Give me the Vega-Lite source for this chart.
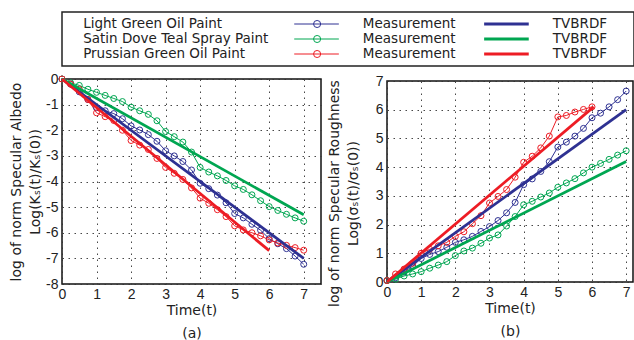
{
  "$schema": "https://vega.github.io/schema/vega-lite/v6.json",
  "background": "white",
  "padding": {"left": 8, "top": 11, "right": 0, "bottom": 0},
  "bounds": "flush",
  "spacing": 13,
  "datasets": {
    "legend": [
      {"s": "Light Green", "label": "Light Green Oil Paint"},
      {"s": "Satin Dove", "label": "Satin Dove Teal Spray Paint"},
      {"s": "Prussian", "label": "Prussian Green Oil Paint"}
    ],
    "measA": [
      {"s":"Light Green","t":0,"v":0},{"s":"Light Green","t":0.25,"v":-0.2},{"s":"Light Green","t":0.5,"v":-0.5},{"s":"Light Green","t":0.75,"v":-0.8},{"s":"Light Green","t":1,"v":-1.12},{"s":"Light Green","t":1.25,"v":-1.24},{"s":"Light Green","t":1.5,"v":-1.35},{"s":"Light Green","t":1.75,"v":-1.55},{"s":"Light Green","t":2,"v":-1.83},{"s":"Light Green","t":2.25,"v":-1.99},{"s":"Light Green","t":2.5,"v":-2.17},{"s":"Light Green","t":2.75,"v":-2.43},{"s":"Light Green","t":3,"v":-2.8},{"s":"Light Green","t":3.25,"v":-3.0},{"s":"Light Green","t":3.5,"v":-3.22},{"s":"Light Green","t":3.75,"v":-3.55},{"s":"Light Green","t":4,"v":-4.07},{"s":"Light Green","t":4.25,"v":-4.28},{"s":"Light Green","t":4.5,"v":-4.53},{"s":"Light Green","t":4.75,"v":-4.83},{"s":"Light Green","t":5,"v":-5.25},{"s":"Light Green","t":5.25,"v":-5.42},{"s":"Light Green","t":5.5,"v":-5.67},{"s":"Light Green","t":5.75,"v":-5.9},{"s":"Light Green","t":6,"v":-6.23},{"s":"Light Green","t":6.25,"v":-6.43},{"s":"Light Green","t":6.5,"v":-6.62},{"s":"Light Green","t":6.75,"v":-6.91},{"s":"Light Green","t":7,"v":-7.23},
      {"s":"Satin Dove","t":0,"v":0},{"s":"Satin Dove","t":0.25,"v":-0.15},{"s":"Satin Dove","t":0.5,"v":-0.25},{"s":"Satin Dove","t":0.75,"v":-0.4},{"s":"Satin Dove","t":1,"v":-0.52},{"s":"Satin Dove","t":1.25,"v":-0.64},{"s":"Satin Dove","t":1.5,"v":-0.76},{"s":"Satin Dove","t":1.75,"v":-0.88},{"s":"Satin Dove","t":2,"v":-1.1},{"s":"Satin Dove","t":2.25,"v":-1.24},{"s":"Satin Dove","t":2.5,"v":-1.38},{"s":"Satin Dove","t":2.75,"v":-1.63},{"s":"Satin Dove","t":3,"v":-2.05},{"s":"Satin Dove","t":3.25,"v":-2.25},{"s":"Satin Dove","t":3.5,"v":-2.46},{"s":"Satin Dove","t":3.75,"v":-2.85},{"s":"Satin Dove","t":4,"v":-3.45},{"s":"Satin Dove","t":4.25,"v":-3.63},{"s":"Satin Dove","t":4.5,"v":-3.78},{"s":"Satin Dove","t":4.75,"v":-3.96},{"s":"Satin Dove","t":5,"v":-4.17},{"s":"Satin Dove","t":5.25,"v":-4.31},{"s":"Satin Dove","t":5.5,"v":-4.52},{"s":"Satin Dove","t":5.75,"v":-4.75},{"s":"Satin Dove","t":6,"v":-4.98},{"s":"Satin Dove","t":6.25,"v":-5.13},{"s":"Satin Dove","t":6.5,"v":-5.28},{"s":"Satin Dove","t":6.75,"v":-5.42},{"s":"Satin Dove","t":7,"v":-5.55},
      {"s":"Prussian","t":0,"v":0},{"s":"Prussian","t":0.25,"v":-0.2},{"s":"Prussian","t":0.5,"v":-0.4},{"s":"Prussian","t":0.75,"v":-0.8},{"s":"Prussian","t":1,"v":-1.32},{"s":"Prussian","t":1.25,"v":-1.47},{"s":"Prussian","t":1.5,"v":-1.62},{"s":"Prussian","t":1.75,"v":-2.0},{"s":"Prussian","t":2,"v":-2.4},{"s":"Prussian","t":2.25,"v":-2.58},{"s":"Prussian","t":2.5,"v":-2.75},{"s":"Prussian","t":2.75,"v":-3.1},{"s":"Prussian","t":3,"v":-3.45},{"s":"Prussian","t":3.25,"v":-3.68},{"s":"Prussian","t":3.5,"v":-3.92},{"s":"Prussian","t":3.75,"v":-4.25},{"s":"Prussian","t":4,"v":-4.65},{"s":"Prussian","t":4.25,"v":-4.85},{"s":"Prussian","t":4.5,"v":-5.1},{"s":"Prussian","t":4.75,"v":-5.37},{"s":"Prussian","t":5,"v":-5.73},{"s":"Prussian","t":5.25,"v":-5.89},{"s":"Prussian","t":5.5,"v":-6.0},{"s":"Prussian","t":5.75,"v":-6.12},{"s":"Prussian","t":6,"v":-6.28},{"s":"Prussian","t":6.25,"v":-6.4},{"s":"Prussian","t":6.5,"v":-6.49},{"s":"Prussian","t":6.75,"v":-6.58},{"s":"Prussian","t":7,"v":-6.68}
    ],
    "fitA": [
      {"s":"Light Green","t":0,"v":0},{"s":"Light Green","t":7,"v":-7.0},
      {"s":"Satin Dove","t":0,"v":0},{"s":"Satin Dove","t":7,"v":-5.3},
      {"s":"Prussian","t":0,"v":0},{"s":"Prussian","t":6,"v":-6.7}
    ],
    "measB": [
      {"s":"Light Green","t":0,"v":0.05},{"s":"Light Green","t":0.25,"v":0.15},{"s":"Light Green","t":0.5,"v":0.35},{"s":"Light Green","t":0.75,"v":0.55},{"s":"Light Green","t":1,"v":0.82},{"s":"Light Green","t":1.25,"v":0.96},{"s":"Light Green","t":1.5,"v":1.06},{"s":"Light Green","t":1.75,"v":1.21},{"s":"Light Green","t":2,"v":1.38},{"s":"Light Green","t":2.25,"v":1.47},{"s":"Light Green","t":2.5,"v":1.59},{"s":"Light Green","t":2.75,"v":1.76},{"s":"Light Green","t":3,"v":1.93},{"s":"Light Green","t":3.25,"v":2.14},{"s":"Light Green","t":3.5,"v":2.41},{"s":"Light Green","t":3.75,"v":2.77},{"s":"Light Green","t":4,"v":3.39},{"s":"Light Green","t":4.25,"v":3.59},{"s":"Light Green","t":4.5,"v":3.85},{"s":"Light Green","t":4.75,"v":4.19},{"s":"Light Green","t":5,"v":4.7},{"s":"Light Green","t":5.25,"v":4.87},{"s":"Light Green","t":5.5,"v":5.08},{"s":"Light Green","t":5.75,"v":5.35},{"s":"Light Green","t":6,"v":5.72},{"s":"Light Green","t":6.25,"v":5.88},{"s":"Light Green","t":6.5,"v":6.1},{"s":"Light Green","t":6.75,"v":6.35},{"s":"Light Green","t":7,"v":6.65},
      {"s":"Satin Dove","t":0,"v":0.05},{"s":"Satin Dove","t":0.25,"v":0.1},{"s":"Satin Dove","t":0.5,"v":0.21},{"s":"Satin Dove","t":0.75,"v":0.28},{"s":"Satin Dove","t":1,"v":0.36},{"s":"Satin Dove","t":1.25,"v":0.48},{"s":"Satin Dove","t":1.5,"v":0.59},{"s":"Satin Dove","t":1.75,"v":0.71},{"s":"Satin Dove","t":2,"v":0.92},{"s":"Satin Dove","t":2.25,"v":1.08},{"s":"Satin Dove","t":2.5,"v":1.18},{"s":"Satin Dove","t":2.75,"v":1.35},{"s":"Satin Dove","t":3,"v":1.53},{"s":"Satin Dove","t":3.25,"v":1.64},{"s":"Satin Dove","t":3.5,"v":1.95},{"s":"Satin Dove","t":3.75,"v":2.28},{"s":"Satin Dove","t":4,"v":2.69},{"s":"Satin Dove","t":4.25,"v":2.81},{"s":"Satin Dove","t":4.5,"v":2.96},{"s":"Satin Dove","t":4.75,"v":3.1},{"s":"Satin Dove","t":5,"v":3.3},{"s":"Satin Dove","t":5.25,"v":3.45},{"s":"Satin Dove","t":5.5,"v":3.6},{"s":"Satin Dove","t":5.75,"v":3.8},{"s":"Satin Dove","t":6,"v":4.0},{"s":"Satin Dove","t":6.25,"v":4.13},{"s":"Satin Dove","t":6.5,"v":4.27},{"s":"Satin Dove","t":6.75,"v":4.42},{"s":"Satin Dove","t":7,"v":4.57},
      {"s":"Prussian","t":0,"v":0.05},{"s":"Prussian","t":0.25,"v":0.28},{"s":"Prussian","t":0.5,"v":0.45},{"s":"Prussian","t":0.75,"v":0.65},{"s":"Prussian","t":1,"v":1.0},{"s":"Prussian","t":1.25,"v":1.14},{"s":"Prussian","t":1.5,"v":1.26},{"s":"Prussian","t":1.75,"v":1.38},{"s":"Prussian","t":2,"v":1.59},{"s":"Prussian","t":2.25,"v":1.75},{"s":"Prussian","t":2.5,"v":2.03},{"s":"Prussian","t":2.75,"v":2.31},{"s":"Prussian","t":3,"v":2.75},{"s":"Prussian","t":3.25,"v":2.98},{"s":"Prussian","t":3.5,"v":3.22},{"s":"Prussian","t":3.75,"v":3.65},{"s":"Prussian","t":4,"v":4.17},{"s":"Prussian","t":4.25,"v":4.38},{"s":"Prussian","t":4.5,"v":4.67},{"s":"Prussian","t":4.75,"v":5.08},{"s":"Prussian","t":5,"v":5.75},{"s":"Prussian","t":5.25,"v":5.8},{"s":"Prussian","t":5.5,"v":5.92},{"s":"Prussian","t":5.75,"v":6.01},{"s":"Prussian","t":6,"v":6.1}
    ],
    "fitB": [
      {"s":"Light Green","t":0,"v":0},{"s":"Light Green","t":7,"v":6.0},
      {"s":"Satin Dove","t":0,"v":0},{"s":"Satin Dove","t":7,"v":4.2},
      {"s":"Prussian","t":0,"v":0},{"s":"Prussian","t":6.05,"v":6.1}
    ]
  },
  "vconcat": [
    {
      "width": 572,
      "height": 54,
      "view": {"stroke": "#222", "strokeWidth": 1.5},
      "data": {"name": "legend"},
      "encoding": {
        "y": {"field": "label", "type": "nominal", "scale": {"type": "point", "domain": ["Light Green Oil Paint", "Satin Dove Teal Spray Paint", "Prussian Green Oil Paint"], "padding": 0.8}, "axis": null}
      },
      "layer": [
        {"mark": {"type": "text", "align": "left", "baseline": "middle", "font": "DejaVu Sans", "fontSize": 13.5, "color": "#222"},
         "encoding": {"x": {"datum": 3.7, "type": "quantitative", "scale": {"domain": [0, 100], "nice": false}, "axis": null}, "text": {"field": "label"}}},
        {"mark": {"type": "rule", "strokeWidth": 1},
         "encoding": {"x": {"datum": 40.6, "type": "quantitative"}, "x2": {"datum": 48.4},
           "color": {"field": "s", "type": "nominal", "scale": {"domain": ["Light Green", "Satin Dove", "Prussian"], "range": ["#2E3192", "#00A651", "#ED1C24"]}, "legend": null}}},
        {"mark": {"type": "point", "shape": "circle", "filled": false, "size": 50, "strokeWidth": 1, "opacity": 1},
         "encoding": {"x": {"datum": 44.6, "type": "quantitative"},
           "color": {"field": "s", "type": "nominal", "legend": null}}},
        {"mark": {"type": "text", "align": "left", "baseline": "middle", "font": "DejaVu Sans", "fontSize": 13.5, "color": "#222"},
         "encoding": {"x": {"datum": 52.6, "type": "quantitative"}, "text": {"value": "Measurement"}}},
        {"mark": {"type": "rule", "strokeWidth": 3},
         "encoding": {"x": {"datum": 73.8, "type": "quantitative"}, "x2": {"datum": 81.6},
           "color": {"field": "s", "type": "nominal", "legend": null}}},
        {"mark": {"type": "text", "align": "left", "baseline": "middle", "font": "DejaVu Sans", "fontSize": 13.5, "color": "#222"},
         "encoding": {"x": {"datum": 85.8, "type": "quantitative"}, "text": {"value": "TVBRDF"}}}
      ]
    },
    {
      "hconcat": [
        {
          "width": 259,
          "height": 205,
          "encoding": {
            "x": {"field": "t", "type": "quantitative", "scale": {"domain": [0, 7.5], "nice": false, "zero": false},
              "axis": {"values": [0,1,2,3,4,5,6,7], "title": ["Time(t)", "(a)"], "labelFlush": false, "labelOverlap": false}},
            "y": {"field": "v", "type": "quantitative", "scale": {"domain": [-8, 0], "nice": false},
              "axis": {"values": [-8,-7,-6,-5,-4,-3,-2,-1,0], "labelExpr": "datum.value + ''", "title": ["log of norm Specular Albedo", "Log(Kₛ(t)/Kₛ(0))"], "labelOverlap": false}},
            "color": {"field": "s", "type": "nominal", "scale": {"domain": ["Light Green", "Satin Dove", "Prussian"], "range": ["#2E3192", "#00A651", "#ED1C24"]}, "legend": null}
          },
          "layer": [
            {"data": {"name": "measA"}, "mark": {"type": "line", "strokeWidth": 1}},
            {"data": {"name": "measA"}, "mark": {"type": "point", "shape": "circle", "filled": false, "size": 36, "strokeWidth": 1, "opacity": 1}},
            {"data": {"name": "fitA"}, "mark": {"type": "line", "strokeWidth": 2.8}}
          ]
        },
        {
          "width": 246,
          "height": 201,
          "encoding": {
            "x": {"field": "t", "type": "quantitative", "scale": {"domain": [0, 7.2], "nice": false, "zero": false},
              "axis": {"values": [0,1,2,3,4,5,6,7], "title": ["Time(t)", "(b)"], "labelFlush": false, "labelOverlap": false}},
            "y": {"field": "v", "type": "quantitative", "scale": {"domain": [0, 7], "nice": false},
              "axis": {"values": [0,1,2,3,4,5,6,7], "title": ["log of norm Specular Roughness", "Log(σₛ(t)/σₛ(0))"], "titleY": 112, "titlePadding": 15, "labelOverlap": false}},
            "color": {"field": "s", "type": "nominal", "scale": {"domain": ["Light Green", "Satin Dove", "Prussian"], "range": ["#2E3192", "#00A651", "#ED1C24"]}, "legend": null}
          },
          "layer": [
            {"data": {"name": "measB"}, "mark": {"type": "line", "strokeWidth": 1}},
            {"data": {"name": "measB"}, "mark": {"type": "point", "shape": "circle", "filled": false, "size": 36, "strokeWidth": 1, "opacity": 1}},
            {"data": {"name": "fitB"}, "mark": {"type": "line", "strokeWidth": 2.8}}
          ]
        }
      ],
      "spacing": 66,
      "bounds": "flush",
      "center": true
    }
  ],
  "config": {
    "view": {"stroke": "#111", "strokeWidth": 1.5},
    "axis": {
      "domain": false,
      "ticks": false,
      "grid": true,
      "gridColor": "#333",
      "gridDash": [1.5, 4.5],
      "gridWidth": 1,
      "gridOpacity": 0.9,
      "labelFont": "Liberation Sans",
      "labelFontSize": 14,
      "labelColor": "#222",
      "labelPadding": 4,
      "titleFont": "DejaVu Sans",
      "titleFontSize": 14,
      "titleFontWeight": "normal",
      "titleColor": "#222",
      "titleLineHeight": 19
    },
    "axisX": {"titleLineHeight": 23, "titlePadding": 2, "labelPadding": 3},
    "axisY": {"titlePadding": 3}
  }
}
